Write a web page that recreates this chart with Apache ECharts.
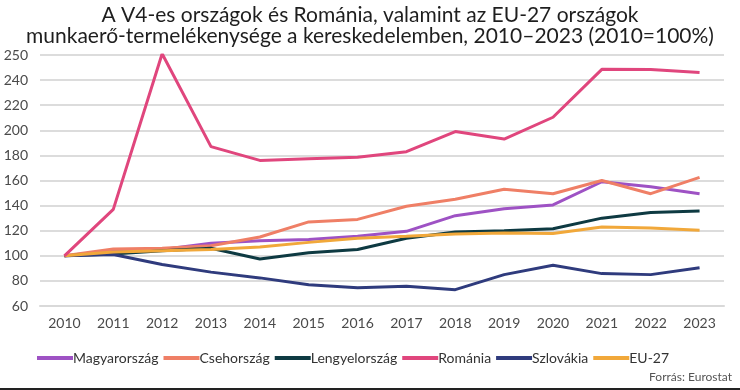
<!DOCTYPE html>
<html><head><meta charset="utf-8">
<script src="https://cdn.jsdelivr.net/npm/echarts@6/dist/echarts.min.js"></script>
<style>html,body{margin:0;padding:0;background:#fff}#c{width:740px;height:390px}</style>
</head><body><div id="c"></div>
<script>
const years = ['2010','2011','2012','2013','2014','2015','2016','2017','2018','2019','2020','2021','2022','2023'];
const magyarorszag = [100,104,105,110,112,113,115.5,119.5,132,137.5,140.5,159,155,149.5];
const csehorszag   = [100,105.5,106,108,115,127,129,139.5,145,153,149.5,160,149.5,162.5];
const lengyelorszag= [100,101.5,104,106,97.5,102.5,105,114,119,120,121.5,130,134.5,135.7];
const romania      = [100,137,261,187,176,177.3,178.6,183,199,193,210.4,248.6,248.5,246];
const szlovakia    = [100,101,93,87,82.4,77,74.5,75.8,73,85,92.5,85.8,85,90.4];
const eu27         = [100,103,104,105,107,110.7,114,115.5,117.4,118.2,117.7,123,122.2,120.3];
const yTicks = [60,80,100,120,140,160,180,200,220,240,260];
const yTickLabels = ['60','80','100','120','140','160','180','200','220','240','250'];
const seriesNames = ['Magyarország','Csehország','Lengyelország','Románia','Szlovákia','EU-27'];
const seriesData = [magyarorszag, csehorszag, lengyelorszag, romania, szlovakia, eu27];
const colors = ['#9e52c4','#ef7f66','#0e3a42','#e0467d','#2f3b7d','#f1a83a'];

const font = 'Lato';
const chart = echarts.init(document.getElementById('c'), null, {renderer:'canvas'});
chart.setOption({
  animation:false,
  color: colors,
  title:{
    text:'A V4-es országok és Románia, valamint az EU-27 országok\nmunkaerő-termelékenysége a kereskedelemben, 2010–2023 (2010=100%)',
    left:'center', top:0,
    textStyle:{fontFamily:font, fontSize:21, fontWeight:'normal', color:'#1e1e1e', lineHeight:21}
  },
  grid:{left:40, right:16, top:55, bottom:84, containLabel:false},
  legend:{
    data: seriesNames, left:32, top:346, itemWidth:36, itemHeight:4, itemGap:5, icon:'rect',
    textStyle:{fontFamily:font, fontSize:14, color:'#333', padding:[0,0,0,-5]}
  },
  xAxis:{
    type:'category', data:years, boundaryGap:true,
    axisLine:{lineStyle:{color:'#d9d9d9', width:2}}, axisTick:{show:false},
    axisLabel:{fontFamily:font, fontSize:14, color:'#4a4a4a', margin:10}
  },
  yAxis:{
    type:'value', min:60, max:260, interval:20,
    axisLine:{show:false}, axisTick:{show:false},
    splitLine:{lineStyle:{color:'#dcdcdc', width:2}},
    axisLabel:{fontFamily:font, fontSize:14, color:'#4a4a4a', margin:12,
      formatter: v => { const i = yTicks.indexOf(v); return i>=0 ? yTickLabels[i] : String(v); }}
  },
  series: seriesNames.map((n,i)=>({
    name:n, type:'line', data:seriesData[i], symbol:'none', smooth:false,
    lineStyle:{width:3, color:colors[i]}, z: i===3?5:3
  })),
  graphic:[
    {type:'text', right:8, top:371, style:{text:'Forrás: Eurostat', font:'12px '+font, fill:'#555'}},
    {type:'rect', left:0, top:388, shape:{width:740, height:2}, style:{fill:'#222'}}
  ]
});
</script></body></html>
